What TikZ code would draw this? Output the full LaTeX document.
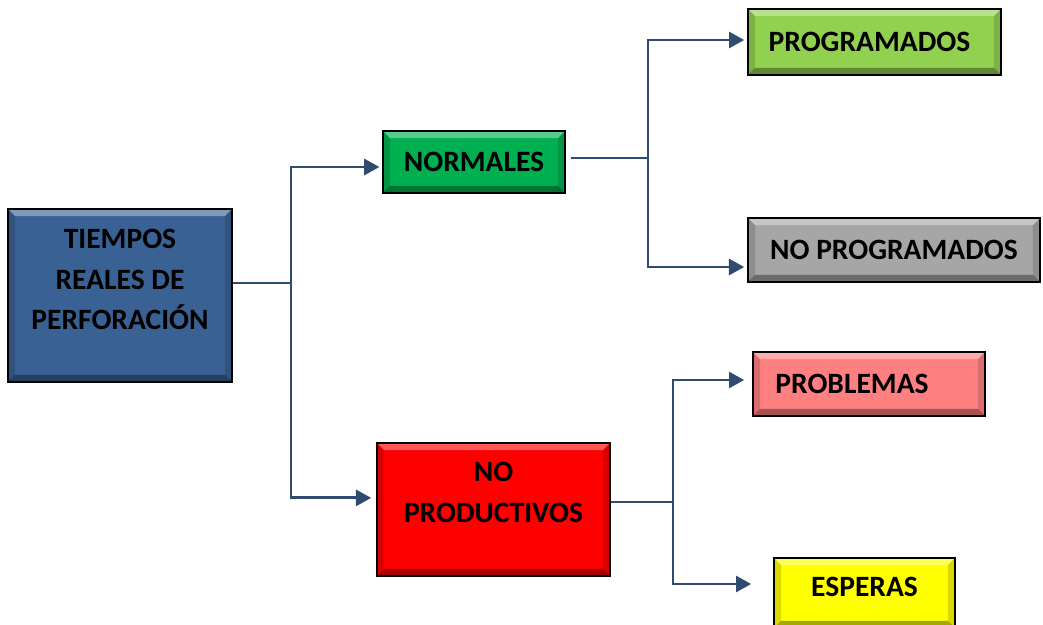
\documentclass[tikz,border=0pt]{standalone}
\usepackage{fontspec}
\setmainfont{Carlito}
\usetikzlibrary{arrows.meta}
\definecolor{trblue}{HTML}{3A6194}
\definecolor{trgreen}{HTML}{00B050}
\definecolor{trlime}{HTML}{92D050}
\definecolor{trgray}{HTML}{A6A6A6}
\definecolor{trred}{HTML}{FF0000}
\definecolor{trpink}{HTML}{FF8080}
\definecolor{tryellow}{HTML}{FFFF00}
\definecolor{trline}{HTML}{2F4B70}
\def\bw{0.18cm}

\begin{document}
\begin{tikzpicture}[x=0.025cm, y=-0.025cm,
    box/.style={draw=black, line width=1.1pt, rectangle, inner sep=0pt, text=black,
      font=\fontsize{21}{29}\selectfont\bfseries,
      path picture={
        \fill[white, opacity=.35] (path picture bounding box.north west) -- (path picture bounding box.north east)
          -- ([shift={(-\bw,-\bw)}]path picture bounding box.north east) -- ([shift={(\bw,-\bw)}]path picture bounding box.north west) -- cycle;
        \fill[black, opacity=.35] (path picture bounding box.south west) -- (path picture bounding box.south east)
          -- ([shift={(-\bw,\bw)}]path picture bounding box.south east) -- ([shift={(\bw,\bw)}]path picture bounding box.south west) -- cycle;
        \fill[black, opacity=.15] (path picture bounding box.north west) -- (path picture bounding box.south west)
          -- ([shift={(\bw,\bw)}]path picture bounding box.south west) -- ([shift={(\bw,-\bw)}]path picture bounding box.north west) -- cycle;
        \fill[black, opacity=.15] (path picture bounding box.north east) -- (path picture bounding box.south east)
          -- ([shift={(-\bw,\bw)}]path picture bounding box.south east) -- ([shift={(-\bw,-\bw)}]path picture bounding box.north east) -- cycle;
      }},
    link/.style={draw=trline, line width=2pt},
    arrow/.style={link, -{Triangle[length=0.38cm, width=0.4cm]}}
  ]
    \useasboundingbox (0,0) rectangle (1043,624);

    % main box
    \node[box, fill=trblue, minimum width=5.6cm, minimum height=4.325cm] (root) at (120,295.5)
      {\begin{tabular}{@{}c@{}}TIEMPOS\\REALES DE\\PERFORACIÓN\\[0.73cm]\end{tabular}};

    % first level
    \node[box, fill=trgreen, minimum width=4.55cm, minimum height=1.55cm] (normales) at (474,162) {NORMALES};
    \node[box, fill=trred, minimum width=5.825cm, minimum height=3.325cm] (noprod) at (493.5,509.5)
      {\begin{tabular}{@{}c@{}}NO\\PRODUCTIVOS\\[0.78cm]\end{tabular}};

    % second level
    \node[box, fill=trlime, minimum width=6.325cm, minimum height=1.65cm] (prog) at (874.5,42) {PROGRAMADOS\kern0.25cm};
    \node[box, fill=trgray, minimum width=7.3cm, minimum height=1.6cm] (noprog) at (894,250) {NO PROGRAMADOS};
    \node[box, fill=trpink, minimum width=5.8cm, minimum height=1.6cm] (probl) at (869,384) {PROBLEMAS\kern0.85cm};
    \node[box, fill=tryellow, minimum width=4.525cm, minimum height=1.75cm] (esperas) at (864.5,593)
      {\begin{tabular}{@{}c@{}}ESPERAS\\[0.25cm]\end{tabular}};

    % junctions
    \coordinate (j1) at (291,283);
    \coordinate (j2) at (648,158);
    \coordinate (j3) at (673,502);

    \draw[link] (root.east |- j1) -- (j1);
    \draw[arrow, shorten >=0.07cm] (j1) |- ([yshift=-0.125cm]normales.west);
    \draw[arrow, shorten >=0.125cm] (j1) |- ([yshift=0.29cm]noprod.west);

    \draw[link] ([xshift=0.12cm]normales.east |- j2) -- (j2);
    \draw[arrow, shorten >=0.075cm] (j2) |- ([yshift=0.05cm]prog.west);
    \draw[arrow, shorten >=0.075cm] (j2) |- ([yshift=-0.425cm]noprog.west);

    \draw[link] (noprod.east |- j3) -- (j3);
    \draw[arrow, shorten >=0.2cm] (j3) |- ([yshift=0.1cm]probl.west);
    \draw[arrow, shorten >=0.55cm] (j3) |- ([yshift=0.225cm]esperas.west);
  \end{tikzpicture}
\end{document}
